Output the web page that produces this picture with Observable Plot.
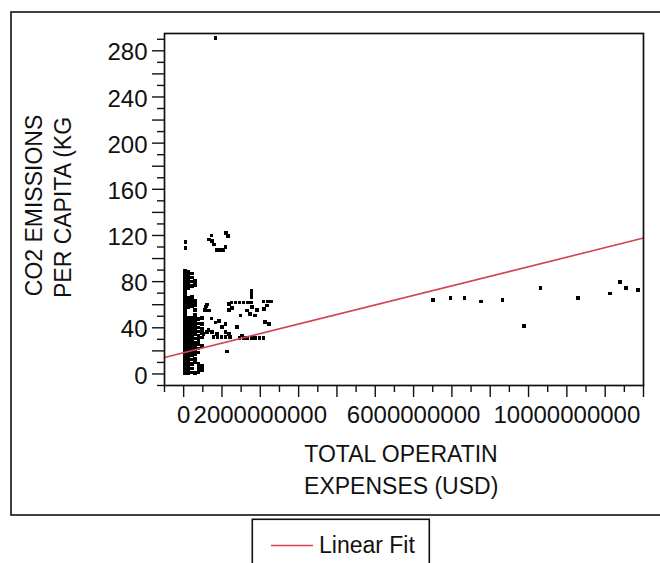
<!DOCTYPE html>
<html>
<head>
<meta charset="utf-8">
<script src="https://cdn.jsdelivr.net/npm/d3@7"></script>
<script src="https://cdn.jsdelivr.net/npm/@observablehq/plot@0.6"></script>
<style>
  body { margin: 0; background: #fff; }
  #wrap { position: relative; width: 660px; height: 563px; overflow: hidden; font-family: "Liberation Sans", Arial, sans-serif; }
  #overlay { position: absolute; left: 0; top: 0; pointer-events: none; }
  #chart { position: absolute; left: 0; top: 0; }
</style>
</head>
<body>
<div id="wrap">
  <div id="chart"></div>
  <svg id="overlay" width="660" height="563"></svg>
</div>
<script>
// ---------- data (x in billions of USD, y in kg CO2 per capita) ----------
const xTitle1 = "TOTAL OPERATIN";
const xTitle2 = " EXPENSES (USD)";
const yTitle1 = "CO2 EMISSIONS";
const yTitle2 = "PER CAPITA (KG";
const legendLabel = "Linear Fit";

const xDomain = [-0.5e9, 12e9];
const yDomain = [-10, 295];
const xLabelTicks = [0, 2e9, 6e9, 10e9];
const xMajorTicks = [0, 1e9, 2e9, 3e9, 4e9, 5e9, 6e9, 7e9, 8e9, 9e9, 10e9, 11e9, 12e9];
const xMinorTicks = [-0.5e9, 0.5e9, 1.5e9, 2.5e9, 3.5e9, 4.5e9, 5.5e9, 6.5e9, 7.5e9, 8.5e9, 9.5e9, 10.5e9, 11.5e9];
const yLabelTicks = [0, 40, 80, 120, 160, 200, 240, 280];
const yMajorTicks = [0, 20, 40, 60, 80, 100, 120, 140, 160, 180, 200, 220, 240, 260, 280];
const yMinorTicks = [-10, 10, 30, 50, 70, 90, 110, 130, 150, 170, 190, 210, 230, 250, 270, 290];

// linear fit
const fitIntercept = 18.4;   // kg at 0 USD
const fitSlope = 8.28;       // kg per billion USD

// dense column near zero expenses
const columnXs = [0.04, 0.12, 0.21, 0.30, 0.39, 0.48];
const columnYs = [
  [0.6, 3.2, 6.0, 8.8, 11.5, 14.4, 17.1, 19.9, 22.8, 25.5, 28.3, 31.2, 33.9, 36.8, 39.6, 42.3, 45.2, 47.9, 50.8, 53.5, 56.4, 59.1, 62.0, 64.7, 67.5, 70.4, 73.1, 76.0, 78.7, 81.6, 84.3, 87.1, 89.4],
  [0.5, 3.4, 6.2, 9.0, 11.7, 14.6, 17.3, 20.2, 23.0, 25.7, 28.6, 31.4, 34.1, 37.0, 39.8, 42.5, 45.4, 48.2, 57.9, 60.7, 63.6, 66.3, 74.2, 77.0, 79.8, 82.7, 85.5, 88.3],
  [1.2, 4.8, 8.5, 12.6, 16.3, 19.4, 22.5, 25.3, 28.2, 31.1, 34.0, 36.9, 39.8, 42.7, 45.6, 48.5, 58.4, 61.5, 64.6, 67.0, 76.5, 80.2, 83.6, 87.0],
  [1.0, 10.2, 13.5, 17.2, 20.6, 24.0, 27.3, 30.8, 34.2, 37.5, 40.9, 44.3, 47.6, 51.2, 55.4, 59.5, 63.0, 76.8, 80.5],
  [1.5, 5.0, 8.8, 18.5, 22.1, 25.8, 29.4, 33.0, 36.7, 40.2, 43.8, 47.5],
  [3.5, 7.2, 24.5, 31.5, 35.2, 39.0, 43.5, 48.8]
];

// scattered points next to the column
const nearPoints = [
  [0.59, 58.4], [0.56, 55.2], [0.73, 48.0], [0.65, 37.9], [0.83, 44.5],
  [0.61, 60.1], [0.66, 54.9], [0.92, 46.2], [1.09, 43.4], [1.00, 40.5], [1.40, 40.5],
  [0.74, 36.1], [0.87, 34.8], [1.09, 36.1], [1.18, 34.8],
  [0.78, 31.8], [0.88, 31.8], [0.99, 31.8], [1.09, 31.8], [1.20, 31.8],
  [1.46, 31.3], [1.56, 31.3], [1.66, 31.3], [1.77, 31.3], [1.87, 31.3], [1.98, 31.3], [2.08, 31.3],
  [1.53, 33.3], [1.135, 19.4], [0.52, 34.8], [0.61, 36.1],
  [1.77, 72.2], [1.77, 69.4], [1.77, 66.6],
  [1.25, 61.8], [1.35, 61.8], [1.46, 61.8], [1.56, 61.8], [1.67, 61.8], [1.77, 61.8], [1.18, 60.7],
  [2.08, 62.7], [2.19, 62.7], [2.28, 62.7],
  [2.18, 59.3], [2.09, 56.4], [1.92, 55.5], [1.79, 57.8],
  [1.27, 57.3], [1.18, 55.5],
  [1.66, 54.9], [1.74, 52.1], [1.48, 50.6], [1.87, 50.6],
  [2.13, 44.8], [2.22, 43.4],
  [0.047, 114.2], [0.047, 109.0], [0.725, 119.9], [0.655, 116.4], [0.744, 115.1], [0.786, 112.1],
  [1.109, 122.2], [1.151, 119.3], [0.856, 107.5], [0.947, 107.5], [1.039, 107.5], [1.091, 109.7],
  [0.83, 291.0]
];

// large-expense points on the right
const farPoints = [
  [6.50, 64.2], [6.96, 65.9], [7.33, 65.9], [7.75, 62.7], [8.32, 64.2], [8.89, 41.7],
  [9.31, 74.6], [10.29, 65.9], [11.13, 69.7], [11.39, 79.8], [11.55, 74.6], [11.85, 72.9]
];

// ---------- build ----------
const points = [];
columnXs.forEach((x, i) => columnYs[i].forEach(y => points.push({x: x * 1e9, y})));
nearPoints.forEach(([x, y]) => points.push({x: x * 1e9, y}));
farPoints.forEach(([x, y]) => points.push({x: x * 1e9, y}));

const fitLine = xDomain.map(x => ({x, y: fitIntercept + fitSlope * x / 1e9}));

const red = "#d4434f";
const ink = "#111";
const font = "Liberation Sans, Arial, sans-serif";

const chart = Plot.plot({
  width: 660,
  height: 563,
  marginLeft: 164,
  marginRight: 17,
  marginTop: 33,
  marginBottom: 178,
  x: {domain: xDomain},
  y: {domain: yDomain},
  style: {fontFamily: font, color: ink, background: "transparent", overflow: "visible"},
  marks: [
    Plot.dot(points, {x: "x", y: "y", symbol: "square", r: 2.1, fill: "#000", stroke: "none", shapeRendering: "crispEdges"}),
    Plot.line(fitLine, {x: "x", y: "y", stroke: red, strokeWidth: 1.6}),
    Plot.frame({stroke: ink, strokeWidth: 1.7}),
    Plot.axisX({ticks: xMinorTicks, tickSize: 7, tickFormat: () => "", label: null, stroke: ink, strokeWidth: 1.4}),
    Plot.axisX({ticks: xMajorTicks, tickSize: 12, tickFormat: () => "", label: null, stroke: ink, strokeWidth: 1.4}),
    Plot.axisX({ticks: xLabelTicks, tickSize: 0, tickPadding: 20, fontSize: 24, label: null, tickFormat: d => String(d), fill: ink}),
    Plot.axisY({ticks: yMinorTicks, tickSize: 7, tickFormat: () => "", label: null, stroke: ink, strokeWidth: 1.4}),
    Plot.axisY({ticks: yMajorTicks, tickSize: 12, tickFormat: () => "", label: null, stroke: ink, strokeWidth: 1.4}),
    Plot.axisY({ticks: yLabelTicks, tickSize: 0, tickPadding: 17, fontSize: 24, dy: 2, label: null, tickFormat: d => String(d), fill: ink}),
    Plot.text([xTitle1], {frameAnchor: "bottom", text: d => d, dx: -3, dy: 60, lineAnchor: "top", textAnchor: "middle", fontSize: 23, fill: ink}),
    Plot.text([xTitle2], {frameAnchor: "bottom", text: d => d, dx: -6, dy: 92.5, lineAnchor: "top", textAnchor: "middle", fontSize: 23, fill: ink}),
    Plot.text([yTitle1], {frameAnchor: "left", text: d => d, rotate: -90, textAnchor: "middle", dx: -129.5, dy: -4, fontSize: 23, fill: ink}),
    Plot.text([yTitle2], {frameAnchor: "left", text: d => d, rotate: -90, textAnchor: "middle", dx: -100.5, dy: -2, fontSize: 23, fill: ink})
  ]
});
document.getElementById("chart").appendChild(chart);

// outer frame and legend
const ov = d3.select("#overlay");
ov.append("rect").attr("x", 11).attr("y", 12).attr("width", 680).attr("height", 503)
  .attr("fill", "none").attr("stroke", ink).attr("stroke-width", 1.6);
const lg = ov.append("g");
lg.append("rect").attr("x", 252.3).attr("y", 519.3).attr("width", 177).attr("height", 80)
  .attr("fill", "#fff").attr("stroke", ink).attr("stroke-width", 1.6);
lg.append("line").attr("x1", 271).attr("x2", 313).attr("y1", 545.5).attr("y2", 545.5)
  .attr("stroke", red).attr("stroke-width", 1.6);
lg.append("text").attr("x", 319).attr("y", 553).attr("font-family", font).attr("font-size", 23)
  .attr("fill", ink).text(legendLabel);
</script>
</body>
</html>
